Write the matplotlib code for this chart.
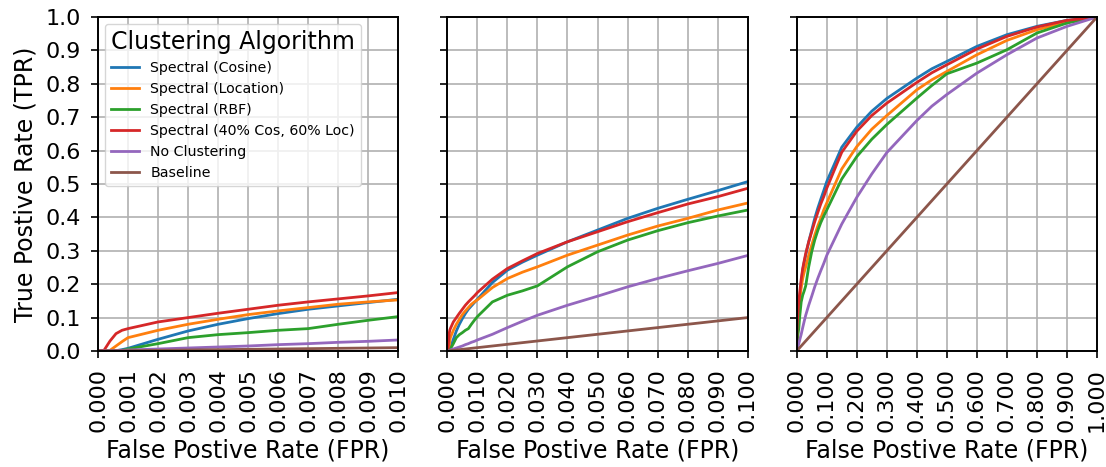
import matplotlib
matplotlib.use("Agg")
import matplotlib.pyplot as plt
import numpy as np

# ── Data ─────────────────────────────────────────────────────────────────────
FPR = [0, 0.0002, 0.0004, 0.0006, 0.0008, 0.001, 0.002, 0.003, 0.004, 0.005,
       0.006, 0.007, 0.008, 0.009, 0.01, 0.015, 0.02, 0.025, 0.03, 0.04, 0.05,
       0.06, 0.07, 0.08, 0.09, 0.1, 0.15, 0.2, 0.25, 0.3, 0.4, 0.45, 0.5, 0.6,
       0.7, 0.8, 0.9, 1.0]

TPR_COSINE = [0, 0, 0, 0.001, 0.004, 0.008, 0.035, 0.06, 0.08, 0.097,
              0.112, 0.125, 0.135, 0.145, 0.155, 0.205, 0.242, 0.266, 0.287, 0.327, 0.362,
              0.397, 0.427, 0.454, 0.48, 0.507, 0.61, 0.67, 0.718, 0.756, 0.817, 0.845, 0.867, 0.912,
              0.947, 0.972, 0.99, 1.0]
TPR_LOCATION = [0, 0, 0.002, 0.015, 0.028, 0.04, 0.062, 0.08, 0.095, 0.109,
                0.12, 0.13, 0.14, 0.147, 0.153, 0.19, 0.217, 0.236, 0.252, 0.287, 0.317,
                0.347, 0.374, 0.397, 0.422, 0.443, 0.545, 0.612, 0.664, 0.705, 0.782, 0.812, 0.837, 0.887,
                0.93, 0.962, 0.984, 1.0]
TPR_RBF = [0, 0, 0, 0, 0.002, 0.006, 0.022, 0.04, 0.049, 0.055,
           0.062, 0.067, 0.08, 0.092, 0.103, 0.147, 0.167, 0.18, 0.195, 0.252, 0.297,
           0.332, 0.36, 0.384, 0.404, 0.422, 0.515, 0.582, 0.634, 0.678, 0.757, 0.795, 0.83, 0.862,
           0.902, 0.952, 0.982, 1.0]
TPR_MIXED = [0, 0.002, 0.03, 0.052, 0.062, 0.067, 0.087, 0.1, 0.113, 0.125,
             0.137, 0.147, 0.156, 0.165, 0.175, 0.215, 0.247, 0.27, 0.292, 0.327, 0.357,
             0.387, 0.414, 0.44, 0.462, 0.487, 0.595, 0.658, 0.705, 0.742, 0.804, 0.833, 0.857, 0.904,
             0.942, 0.97, 0.99, 1.0]
TPR_NONE = [0, 0.0005, 0.001, 0.0015, 0.002, 0.003, 0.006, 0.009, 0.012, 0.015,
            0.019, 0.022, 0.026, 0.029, 0.033, 0.05, 0.07, 0.089, 0.107, 0.137, 0.164,
            0.192, 0.217, 0.24, 0.262, 0.286, 0.38, 0.46, 0.53, 0.594, 0.69, 0.733, 0.768, 0.832,
            0.887, 0.937, 0.972, 1.0]
TPR_BASELINE = [0, 0.0002, 0.0004, 0.0006, 0.0008, 0.001, 0.002, 0.003, 0.004, 0.005,
                0.006, 0.007, 0.008, 0.009, 0.01, 0.015, 0.02, 0.025, 0.03, 0.04, 0.05,
                0.06, 0.07, 0.08, 0.09, 0.1, 0.15, 0.2, 0.25, 0.3, 0.4, 0.45, 0.5, 0.6,
                0.7, 0.8, 0.9, 1.0]

LABELS = ["Spectral (Cosine)", "Spectral (Location)", "Spectral (RBF)",
          "Spectral (40% Cos, 60% Loc)", "No Clustering", "Baseline"]
SERIES = [TPR_COSINE, TPR_LOCATION, TPR_RBF, TPR_MIXED, TPR_NONE, TPR_BASELINE]

X_LIMITS = [0.01, 0.1, 1.0]

FONT_TICK = 16
FONT_LABEL = 17

fig, axes = plt.subplots(1, 3, sharey=True, figsize=(11.06, 4.67), dpi=100)
fig.subplots_adjust(left=98 / 1106, right=1097 / 1106,
                    top=1 - 17 / 467, bottom=1 - 351 / 467, wspace=49 / 300)

for ax, xmax in zip(axes, X_LIMITS):
    for tpr, lab in zip(SERIES, LABELS):
        ax.plot(FPR, tpr, lw=2, label=lab)
    ax.set_xlim(0, xmax)
    ax.set_ylim(0, 1)
    ticks = np.linspace(0, xmax, 11)
    ax.set_xticks(ticks)
    ax.set_xticklabels([f"{v:.3f}" for v in ticks], rotation=90)
    ax.set_yticks(np.linspace(0, 1, 11))
    ax.tick_params(labelsize=FONT_TICK, width=1.2, length=5, pad=7)
    ax.grid(True, color="#b0b0b0", lw=1.2)
    ax.set_axisbelow(True)
    for sp in ax.spines.values():
        sp.set_linewidth(1.4)
    ax.set_xlabel("False Postive Rate (FPR)", fontsize=FONT_LABEL, labelpad=5)

axes[0].set_ylabel("True Postive Rate (TPR)", fontsize=FONT_LABEL, labelpad=6)
leg = axes[0].legend(title="Clustering Algorithm", loc="upper left",
                     fontsize=10.2, title_fontsize=FONT_LABEL, framealpha=0.8)

fig.savefig("out.png", dpi=100)
